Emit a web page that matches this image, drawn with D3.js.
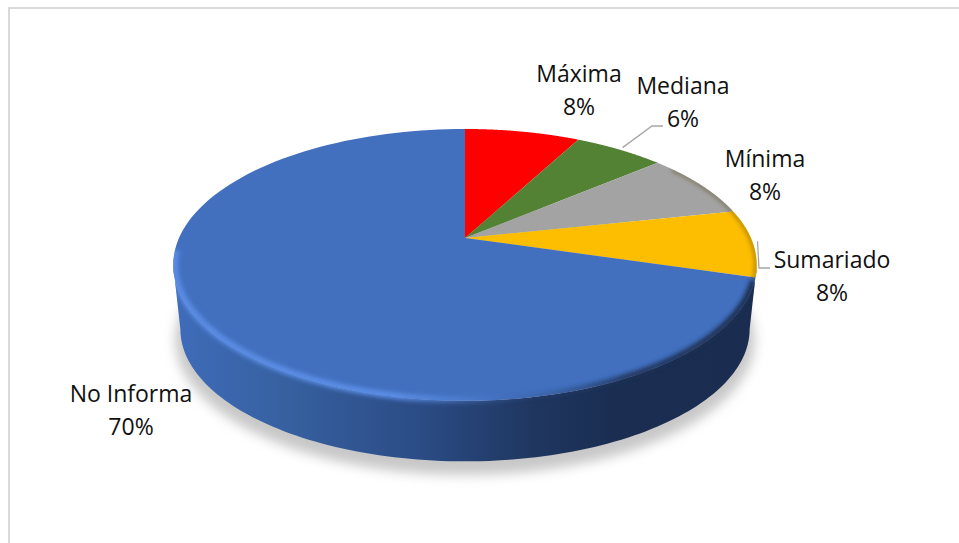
<!DOCTYPE html>
<html>
<head>
<meta charset="utf-8">
<script src="https://cdn.jsdelivr.net/npm/d3@7"></script>
<style>
html, body { margin: 0; padding: 0; background: #fff; }
svg { display: block; }
text { font-family: "Open Sans", "Noto Sans", sans-serif; font-size: 23px; fill: #111; }
</style>
</head>
<body>
<svg width="959" height="543"></svg>
<script>
// Slices clockwise from 12 o'clock, as they appear in the chart
const categories = ["Máxima", "Mediana", "Mínima", "Sumariado", "No Informa"];
const percents = [7.7, 6.05, 7.85, 8, 70.4];
const sliceColors = ["#ff0000", "#548235", "#a3a3a3", "#fdbd00", "#4270bf"];

const svg = d3.select("svg");
const defs = svg.append("defs");

// Tilted disc: perspective projection of a flat circle of radius 1
const persp = 0.198;
function project(angle, r, cx, cy, fx, fy) {
    const w = 1 + persp * r * Math.cos(angle);
    return [cx + fx * r * Math.sin(angle) / w, cy - fy * r * Math.cos(angle) / w];
}
const topFace = { cx: 465, cy: 238, fx: 286, fy: 130.6 };
const baseFace = { cx: 465, cy: 303, fx: 279, fy: 127 };
const topAt = (a, r = 1) => project(a, r, topFace.cx, topFace.cy, topFace.fx, topFace.fy);
const baseAt = (a, r = 1) => project(a, r, baseFace.cx, baseFace.cy, baseFace.fx, baseFace.fy);
const shadowAt = a => project(a, 1, 465, 313, 284, 130);

const line = d3.line();
const arcSamples = (a0, a1, fn) => d3.range(0, 121).map(i => fn(a0 + (a1 - a0) * i / 120));

const arcs = d3.pie().sort(null).value(d => d)(percents);
const discPath = fn => line(arcSamples(0, 2 * Math.PI, fn)) + "Z";

// Angles where the projected disc is widest
const sideRight = Math.acos(-persp);
const sideLeft = 2 * Math.PI - sideRight;
const wallPath = line(arcSamples(sideRight, sideLeft, a => topAt(a)).concat(arcSamples(sideLeft, sideRight, a => baseAt(a)))) + "Z";

// Gradients and filters
function hGradient(id, stops) {
    const g = defs.append("linearGradient").attr("id", id)
        .attr("gradientUnits", "userSpaceOnUse")
        .attr("x1", 173).attr("x2", 757).attr("y1", 0).attr("y2", 0);
    stops.forEach(s => g.append("stop").attr("offset", s[0]).attr("stop-color", s[1]).attr("stop-opacity", s[2] === undefined ? 1 : s[2]));
}
hGradient("sideGrad", [[0, "#3f6cba"], [0.2, "#36609f"], [0.42, "#2b4c86"], [0.62, "#1f365f"], [0.75, "#1b2e52"], [1, "#1a2d50"]]);
hGradient("rimGrad", [[0, "#5f92ec", 0.85], [0.38, "#5d90ea", 0.95], [0.52, "#5a8ae0", 0.3], [0.62, "#2a4675", 0.2], [0.78, "#1c3052", 0.85], [1, "#1a2d50", 1]]);

defs.append("filter").attr("id", "shadowBlur").attr("x", "-10%").attr("y", "-10%").attr("width", "120%").attr("height", "120%")
    .append("feGaussianBlur").attr("stdDeviation", 6);
defs.append("filter").attr("id", "rimBlur").attr("x", "-10%").attr("y", "-10%").attr("width", "120%").attr("height", "120%")
    .append("feGaussianBlur").attr("stdDeviation", 2.2);
defs.append("clipPath").attr("id", "topClip").append("path").attr("d", discPath(a => topAt(a)));
defs.append("clipPath").attr("id", "hullClip").append("path").attr("d", discPath(a => topAt(a)) + wallPath);

// Chart frame: only the top and left edges show
svg.append("path").attr("fill", "none").attr("stroke", "#d9d9d9").attr("stroke-width", 2)
    .attr("d", line([[959, 8], [9, 8], [9, 543]]));

// Shadow below the disc
svg.append("path").attr("d", discPath(shadowAt))
    .attr("fill", "#c8c8c8").attr("filter", "url(#shadowBlur)");

// Side wall
svg.append("path").attr("d", wallPath).attr("fill", "url(#sideGrad)");

// Top face slices
svg.append("g").selectAll("path").data(arcs).join("path")
    .attr("d", d => line([[topFace.cx, topFace.cy]].concat(arcSamples(d.startAngle, d.endAngle, a => topAt(a)))) + "Z")
    .attr("fill", (d, i) => sliceColors[i]);

// Bevel along the front of the rim, light on the left and dark on the right
svg.append("g").attr("clip-path", "url(#hullClip)").append("path")
    .attr("d", line(arcSamples(Math.PI * 0.6, Math.PI * 1.47, a => topAt(a, 0.995))))
    .attr("fill", "none").attr("stroke", "url(#rimGrad)").attr("stroke-width", 6.5)
    .attr("filter", "url(#rimBlur)");
svg.append("g").attr("clip-path", "url(#topClip)").append("path")
    .attr("d", line(arcSamples(Math.PI * 0.3, Math.PI * 0.6, a => topAt(a, 0.997))))
    .attr("fill", "none").attr("stroke", "#4d3a10").attr("stroke-opacity", 0.6).attr("stroke-width", 2.5)
    .attr("filter", "url(#rimBlur)");

// Leader lines
const leaderColor = "#a6a6a6";
const medianaMid = (arcs[1].startAngle + arcs[1].endAngle) / 2;
const sumMid = (arcs[3].startAngle + arcs[3].endAngle) / 2;
const medianaStart = topAt(medianaMid);
const sumStart = topAt(sumMid + 0.12);
svg.append("path").attr("fill", "none").attr("stroke", leaderColor).attr("stroke-width", 1.3)
    .attr("d", line([[medianaStart[0] + 3, medianaStart[1] - 2], [652, 126], [663, 126]]));
svg.append("path").attr("fill", "none").attr("stroke", leaderColor).attr("stroke-width", 1.3)
    .attr("d", line([[sumStart[0] + 1, sumStart[1] - 18], [759, 268], [770, 268]]));

// Labels
const labelPos = [[579, 82], [683, 94], [765, 167], [832, 268], [131, 402]];
const labels = svg.append("g").selectAll("text").data(categories).join("text")
    .attr("text-anchor", "middle")
    .attr("x", (d, i) => labelPos[i][0])
    .attr("y", (d, i) => labelPos[i][1]);
labels.append("tspan").text(d => d);
labels.append("tspan")
    .attr("x", (d, i) => labelPos[i][0])
    .attr("dy", 33)
    .text((d, i) => Math.round(percents[i]) + "%");
</script>
</body>
</html>
